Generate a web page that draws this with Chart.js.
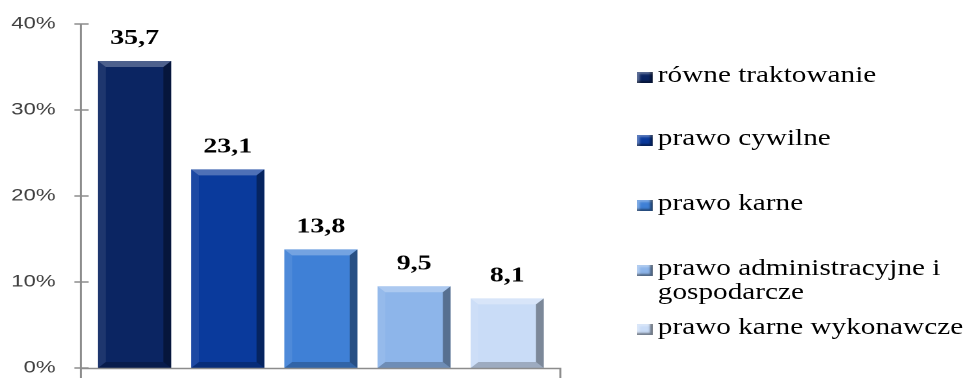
<!DOCTYPE html>
<html>
<head>
<meta charset="utf-8">
<script src="https://cdn.jsdelivr.net/npm/chart.js@4.4.0/dist/chart.umd.min.js"></script>
<style>
  html, body { margin: 0; padding: 0; background: #fff; }
  body { width: 970px; height: 378px; overflow: hidden; position: relative; }
  /* the reference is stretched horizontally, so draw narrow and stretch */
  #wrap { position: absolute; left: 0; top: 0; width: 746px; height: 378px;
          transform: scaleX(1.3); transform-origin: 0 0; }
  #chart { position: absolute; left: 0; top: 0; }
  #legend { position: absolute; left: 490px; top: 0; width: 256px; height: 378px;
            font-family: "Liberation Serif", "Times New Roman", serif; font-size: 22.5px;
            line-height: 24px; color: #000; }
  .item { position: absolute; left: 0; padding-left: 16px; width: 240px; }
  .box { position: absolute; left: 0; top: 9px; width: 11.5px; height: 11px; }
</style>
</head>
<body>
<div id="wrap">
  <canvas id="chart" width="746" height="378"></canvas>
  <div id="legend"></div>
</div>
<script>
const categories = ['równe traktowanie', 'prawo cywilne', 'prawo karne', 'prawo administracyjne i gospodarcze', 'prawo karne wykonawcze'];
const values = [35.7, 23.1, 13.8, 9.5, 8.1];
const barColors = ['#0b2562', '#0a3a9c', '#3f80d6', '#8db5ea', '#c9dcf7'];
const yTicks = [0, 10, 20, 30, 40];

// legend (html, so the 4th entry can wrap to two lines)
const legendTops = [63, 126, 191, 256, 315];
const legend = document.getElementById('legend');
categories.forEach(function (c, i) {
  const item = document.createElement('div');
  item.className = 'item';
  item.style.top = legendTops[i] + 'px';
  const box = document.createElement('span');
  box.className = 'box';
  box.style.background = barColors[i];
  box.style.boxShadow = 'inset -2px -2px 2px rgba(0,0,0,0.45), inset 2px 2px 2px rgba(255,255,255,0.35)';
  item.appendChild(box);
  item.appendChild(document.createTextNode(c));
  legend.appendChild(item);
});

const fmt = v => v.toFixed(1).replace('.', ',');

const decor = {
  id: 'decor',
  afterDatasetsDraw(chart) {
    const ctx = chart.ctx;
    const area = chart.chartArea;
    const y = chart.scales.y;
    const meta = chart.getDatasetMeta(0);

    // bevel on each bar
    meta.data.forEach(function (el) {
      const l = el.x - el.width / 2, r = el.x + el.width / 2;
      const t = el.y, b = el.base;
      const bx = 6, by = 6;
      const faces = [
        [[l, t], [r, t], [r - bx, t + by], [l + bx, t + by], 'rgba(255,255,255,0.28)'],
        [[l, t], [l + bx, t + by], [l + bx, b - by], [l, b], 'rgba(255,255,255,0.08)'],
        [[r, t], [r, b], [r - bx, b - by], [r - bx, t + by], 'rgba(0,0,0,0.38)'],
        [[l, b], [l + bx, b - by], [r - bx, b - by], [r, b], 'rgba(0,0,0,0.22)']
      ];
      faces.forEach(function (f) {
        ctx.beginPath();
        ctx.moveTo(f[0][0], f[0][1]);
        for (let k = 1; k < 4; k++) ctx.lineTo(f[k][0], f[k][1]);
        ctx.closePath();
        ctx.fillStyle = f[4];
        ctx.fill();
      });
    });

    // value labels
    ctx.save();
    ctx.font = 'bold 21.5px "Liberation Serif", "Times New Roman", serif';
    ctx.fillStyle = '#000';
    ctx.textAlign = 'center';
    ctx.textBaseline = 'alphabetic';
    meta.data.forEach(function (el, i) {
      ctx.fillText(fmt(values[i]), el.x, el.y - 17);
    });
    ctx.restore();

    // axes
    const ax = area.left - 5.5;
    const axR = area.right + 5;
    ctx.save();
    ctx.strokeStyle = '#8c8c8c';
    ctx.lineWidth = 1.5;
    ctx.beginPath();
    ctx.moveTo(ax, area.top);
    ctx.lineTo(ax, area.bottom + 10);
    ctx.moveTo(ax, area.bottom + 0.5);
    ctx.lineTo(axR, area.bottom + 0.5);
    ctx.lineTo(axR, area.bottom + 10);
    yTicks.forEach(function (v) {
      const py = y.getPixelForValue(v);
      ctx.moveTo(ax - 5, py);
      ctx.lineTo(ax + 6, py);
    });
    ctx.stroke();
    ctx.restore();
  }
};

new Chart(document.getElementById('chart'), {
  type: 'bar',
  data: {
    labels: categories,
    datasets: [{
      data: values,
      backgroundColor: barColors,
      borderWidth: 0,
      barPercentage: 0.785,
      categoryPercentage: 1
    }]
  },
  options: {
    responsive: false,
    devicePixelRatio: 2,
    animation: false,
    layout: { padding: { top: 24, bottom: 10, left: 0, right: 320 } },
    plugins: { legend: { display: false }, tooltip: { enabled: false } },
    scales: {
      x: { display: false },
      y: {
        min: 0, max: 40,
        afterFit: function (s) {
          s.width = 67.7;
          // tick padding should only push labels sideways, not shrink the plot
          s.paddingTop = 10;
          s.paddingBottom = 10;
        },
        afterBuildTicks: function (s) { s.ticks = yTicks.map(v => ({ value: v })); },
        grid: { display: false, drawTicks: false },
        border: { display: false },
        ticks: {
          padding: 25,
          color: '#404040',
          font: { family: '"Liberation Sans", Arial, sans-serif', size: 17 },
          callback: v => v + '%'
        }
      }
    }
  },
  plugins: [decor]
});
</script>
</body>
</html>
